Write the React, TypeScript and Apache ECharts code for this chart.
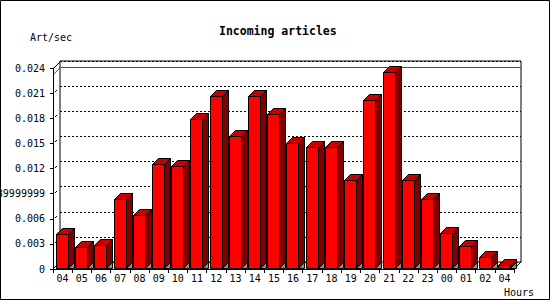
import React, { useEffect, useRef } from "react";
import * as echarts from "echarts";

const hours = ["04","05","06","07","08","09","10","11","12","13","14","15","16","17","18","19","20","21","22","23","00","01","02","04"];
const artPerSec = [0.00412,0.00258,0.00282,0.0084,0.0065,0.01256,0.01232,0.01794,0.02064,0.01592,0.02064,0.0185,0.01505,0.01458,0.01458,0.01066,0.0202,0.02352,0.01066,0.0084,0.00424,0.00277,0.00139,0.00044];
const yTickValues = [0,0.003,0.006,0.009,0.012,0.015,0.018,0.021,0.024];
const yTickLabels = ["0","0.003","0.006","0.0089999999","0.012","0.015","0.018","0.021","0.024"];
const titleText = "Incoming articles";
const yName = "Art/sec";
const xName = "Hours";

const FONT = "'DejaVu Sans Mono', 'Liberation Mono', monospace";

export default function App() {
  const ref = useRef<HTMLDivElement>(null);
  useEffect(() => {
    if (!ref.current) return;
    const chart = echarts.init(ref.current, undefined, { renderer: "svg" });
    const D = 7; // back plane depth
    const B = 6; // bar depth
    const yMin = yTickValues[0];
    const yMax = yTickValues[yTickValues.length - 1];
    const maxVal = Math.max(...artPerSec);

    const frameRender = (params: any, api: any) => {
      const band = api.size([1, 0])[0];
      const p0 = api.coord([0, yMin]);
      const pTop = api.coord([0, yMax]);
      const pLast = api.coord([hours.length - 1, yMin]);
      const xL = Math.round(p0[0] - band / 2) + 0.5;
      const xR = Math.round(pLast[0] + band / 2) + 0.5;
      const yB = Math.round(p0[1]) - 0.5;
      const yT = Math.round(pTop[1]) + 0.5;
      const pm = api.coord([0, maxVal]);
      const yM = Math.round(pm[1]) + 0.5;
      const children: any[] = [
        { type: "line", shape: { x1: xL, y1: yT, x2: xL + D, y2: yT - D }, style: { stroke: "#000", lineWidth: 1 } },
        { type: "line", shape: { x1: xL, y1: yB, x2: xL + D, y2: yB - D }, style: { stroke: "#000", lineWidth: 1 } },
        { type: "line", shape: { x1: xR, y1: yB, x2: xR + D, y2: yB - D }, style: { stroke: "#000", lineWidth: 1 } },
        { type: "polyline", shape: { points: [[xL, yM + 2], [xL + D, yM - D + 2], [xR + D, yM - D + 2]] }, style: { stroke: "#ff0000", lineWidth: 1, fill: "none" } },
      ];
      yTickValues.slice(1, -1).forEach((v) => {
        const p = api.coord([0, v]);
        const y = Math.round(p[1]) + 0.5;
        children.push({ type: "line", shape: { x1: xL + 1.5, y1: y - 1.5, x2: xL + 3.5, y2: y - 3.5 }, style: { stroke: "#000", lineWidth: 1 } });
      });
      return { type: "group", children };
    };

    const barRender = (params: any, api: any) => {
      const i = api.value(0);
      const v = api.value(1);
      const base = api.coord([i, 0]);
      const top = api.coord([i, v]);
      const band = api.size([1, 0])[0];
      const w = 12;
      const xl = Math.round(base[0] - band / 2 + 3) + 0.5;
      const xr = xl + w;
      const yb = Math.round(base[1]) - 0.5;
      const yt = Math.round(top[1]) + 0.5;
      return {
        type: "group",
        children: [
          { type: "polygon", shape: { points: [[xr, yb], [xr + B, yb - B], [xr + B, yb]] }, style: { fill: "#8c8c8c", stroke: "#000", lineWidth: 1 } },
          { type: "polygon", shape: { points: [[xr, yt], [xr + B, yt - B], [xr + B, yb - B], [xr, yb]] }, style: { fill: "#800000", stroke: "#000", lineWidth: 1 } },
          { type: "polygon", shape: { points: [[xl, yt], [xl + B, yt - B], [xr + B, yt - B], [xr, yt]] }, style: { fill: "#c80000", stroke: "#000", lineWidth: 1 } },
          { type: "rect", shape: { x: xl, y: yt, width: w, height: yb - yt }, style: { fill: "#ff0000", stroke: "#000", lineWidth: 1 } },
        ],
      };
    };

    const option: any = {
      animation: false,
      backgroundColor: "#fff",
      title: {
        text: titleText,
        left: 214,
        top: 20,
        textStyle: { fontFamily: FONT, fontWeight: "bold", fontSize: 11.5, color: "#000" },
      },
      grid: [
        { left: 53, top: 68, width: 461, height: 201, containLabel: false, outerBoundsMode: "none" },
        { left: 60, top: 61, width: 461, height: 201, containLabel: false, outerBoundsMode: "none", show: true, borderColor: "#000", borderWidth: 1, backgroundColor: "transparent" },
      ],
      xAxis: [
        {
          gridIndex: 0, type: "category", data: hours, boundaryGap: true, z: 10,
          axisLine: { show: true, lineStyle: { color: "#000", width: 1 } },
          axisTick: { show: true, length: 4, inside: false, interval: 0, lineStyle: { color: "#000" } },
          axisLabel: { color: "#000", fontFamily: FONT, fontSize: 10, margin: 4, interval: 0, hideOverlap: false },
          splitLine: { show: false },
        },
        { gridIndex: 1, type: "category", data: hours, show: false },
      ],
      yAxis: [
        {
          gridIndex: 0, type: "value", min: yMin, max: yMax, interval: 0.003, z: 10,
          axisLine: { show: true, lineStyle: { color: "#000", width: 1 } },
          axisTick: { show: true, length: 3, lineStyle: { color: "#000" } },
          axisLabel: { color: "#000", fontFamily: FONT, fontSize: 10, margin: 8, hideOverlap: false, formatter: (_v: number, idx: number) => yTickLabels[idx] },
          splitLine: { show: false },
        },
        {
          gridIndex: 1, type: "value", min: yMin, max: yMax, interval: 0.003,
          axisLine: { show: false }, axisTick: { show: false }, axisLabel: { show: false },
          splitLine: { show: true, lineStyle: { color: "#000", width: 1, type: [2, 2] } },
        },
      ],
      graphic: [
        { type: "rect", shape: { x: 0.5, y: 0.5, width: 549, height: 299 }, style: { fill: "none", stroke: "#000", lineWidth: 1 }, z: 100 },
        { type: "text", x: 30, y: 37, style: { text: yName, fill: "#000", fontFamily: FONT, fontSize: 10, verticalAlign: "middle", align: "left" } },
        { type: "text", x: 504, y: 292, style: { text: xName, fill: "#000", fontFamily: FONT, fontSize: 10, verticalAlign: "middle", align: "left" } },
      ],
      series: [
        { type: "custom", xAxisIndex: 0, yAxisIndex: 0, data: [[0, 0]], renderItem: frameRender, z: 1, silent: true },
        { type: "custom", xAxisIndex: 0, yAxisIndex: 0, data: artPerSec.map((v, i) => [i, v]), encode: { x: 0, y: 1 }, renderItem: barRender, z: 3 },
      ],
    };
    chart.setOption(option);
    return () => chart.dispose();
  }, []);
  return <div ref={ref} style={{ position: "absolute", left: 0, top: 0, width: 550, height: 300 }} />;
}
